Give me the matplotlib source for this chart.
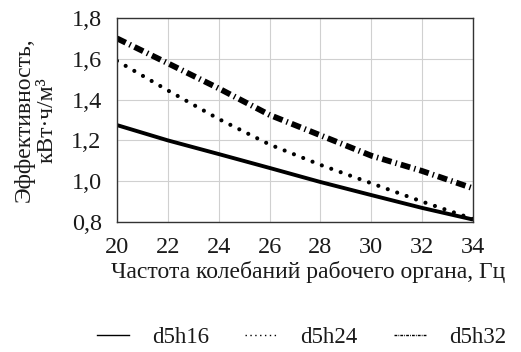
import matplotlib
matplotlib.use("Agg")
import matplotlib.pyplot as plt
from matplotlib.lines import Line2D

# Data
freq = [20, 22, 24, 26, 28, 30, 32, 34]
d5h16 = [1.275, 1.200, 1.133, 1.065, 0.996, 0.932, 0.869, 0.812]
d5h24 = [1.590, 1.445, 1.305, 1.180, 1.080, 0.990, 0.900, 0.815]
d5h32 = [1.700, 1.578, 1.455, 1.325, 1.225, 1.125, 1.050, 0.965]
series_names = ["d5h16", "d5h24", "d5h32"]
x_ticks = [20, 22, 24, 26, 28, 30, 32, 34]
y_ticks = [0.8, 1.0, 1.2, 1.4, 1.6, 1.8]

plt.rcParams["font.family"] = ["Liberation Serif", "DejaVu Serif"]
plt.rcParams["lines.scale_dashes"] = False

fig = plt.figure(figsize=(5.21, 3.52), dpi=100)
ax = fig.add_axes([117 / 521, 1 - 222 / 352, 356 / 521, 204 / 352])

# ── curves ────────────────────────────────────────────────────────────────
ax.plot(freq, d5h16, color="black", lw=2.8, solid_capstyle="butt")
ax.plot(freq, d5h24, color="black", lw=3.0, linestyle=(0, (0.01, 7.2)),
        dash_capstyle="round")
ax.plot(freq, d5h32, color="black", lw=4.2, linestyle=(0, (7.0, 3.0, 1.0, 3.0)),
        dash_capstyle="butt")

ax.set_xlim(20, 34)
ax.set_ylim(0.8, 1.8)
ax.set_xticks(x_ticks)
ax.set_yticks(y_ticks)
ax.set_yticklabels([f"{v:.1f}".replace(".", ",") for v in y_ticks])
ax.tick_params(length=0, labelsize=17.5, colors="#1a1a1a")
ax.tick_params(axis="x", pad=11)
ax.tick_params(axis="y", pad=11)
ax.grid(True, color="#d0d0d0", lw=0.8)
ax.set_axisbelow(True)
for sp in ax.spines.values():
    sp.set_color("#333333")
    sp.set_linewidth(1.0)

ax.set_xlabel("Частота колебаний рабочего органа, Гц", fontsize=17, color="#1a1a1a")
ax.xaxis.set_label_coords(0.536, -0.245)
ax.xaxis.label.set_va("center")
ax.set_ylabel("Эффективность,\nкВт·ч/м³", fontsize=17, color="#1a1a1a",
              linespacing=1.1)
ax.yaxis.set_label_coords(-0.228, 0.5)
ax.yaxis.label.set_va("center")

# ── legend (thin proxy handles like the original) ─────────────────────────
handles = [
    Line2D([], [], color="black", lw=1.0),
    Line2D([], [], color="black", lw=1.0, linestyle=(0, (1, 2.5))),
    Line2D([], [], color="black", lw=1.0, linestyle=(0, (2, 0.8, 0.6, 0.8))),
]
fig.legend(handles, series_names, loc="center", bbox_to_anchor=(0.579, 0.04),
           ncol=3, frameon=False, fontsize=16.5, handlelength=1.4,
           handletextpad=1.0, columnspacing=1.6, borderpad=0.0,
           labelcolor="#1a1a1a")

fig.savefig("out.png", dpi=100)
